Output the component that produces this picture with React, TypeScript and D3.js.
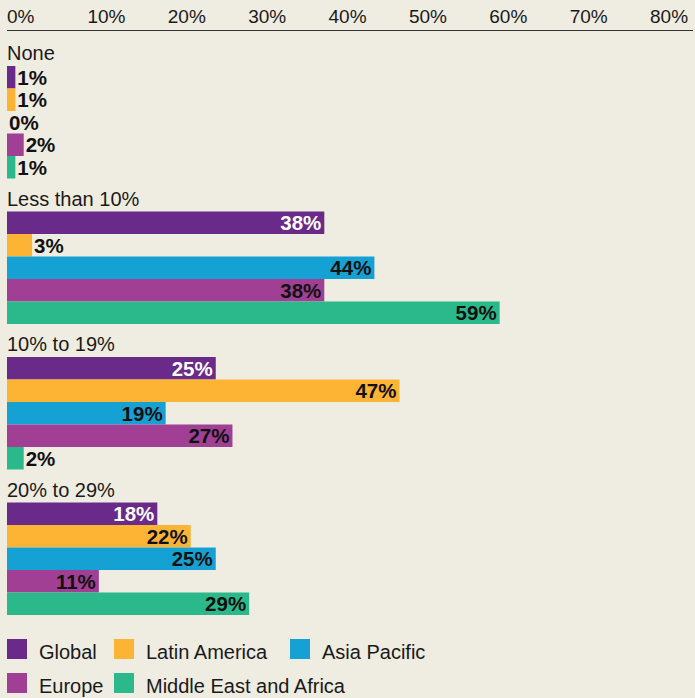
import React, { useEffect, useRef } from "react";
import * as d3 from "d3";

const categories = ["None", "Less than 10%", "10% to 19%", "20% to 29%"];
const seriesNames = ["Global", "Latin America", "Asia Pacific", "Europe", "Middle East and Africa"];
const seriesColors = ["#6a2a8a", "#fdb435", "#16a1d4", "#a03f93", "#2bb98b"];
const labelColors = ["#ffffff", "#111111", "#111111", "#111111", "#111111"];

// values per series, one entry per category
const globalValues = [1, 38, 25, 18];
const latinAmericaValues = [1, 3, 47, 22];
const asiaPacificValues = [0, 44, 19, 25];
const europeValues = [2, 38, 27, 11];
const meaValues = [1, 59, 2, 29];
const seriesValues = [globalValues, latinAmericaValues, asiaPacificValues, europeValues, meaValues];

const tickValues = [0, 10, 20, 30, 40, 50, 60, 70, 80];

const W = 695;
const H = 698;
const FONT = "'Liberation Sans', Arial, Helvetica, sans-serif";

export default function App() {
  const ref = useRef<SVGSVGElement>(null);

  useEffect(() => {
    document.body.style.margin = "0";
    document.body.style.background = "#efece1";
    const svg = d3.select(ref.current);
    svg.selectAll("*").remove();

    svg.append("rect").attr("width", W).attr("height", H).attr("fill", "#efece1");

    // scales
    const x = d3.scaleLinear().domain([0, 80]).range([7, 675]);
    const tickX = d3.scaleLinear().domain([0, 80]).range([7, 650]);
    const yGroup = d3.scaleBand<string>().domain(categories).range([40, 40 + 4 * 145.5]);
    const ySeries = d3.scaleBand<string>().domain(seriesNames).range([0, 112.5]);

    // top axis labels + line
    svg.append("g")
      .selectAll("text")
      .data(tickValues)
      .enter()
      .append("text")
      .attr("x", (d) => tickX(d))
      .attr("y", 23)
      .attr("font-family", FONT)
      .attr("font-size", 19)
      .attr("fill", "#1a1a1a")
      .text((d) => d + "%");
    svg.append("line")
      .attr("x1", 7).attr("x2", 693)
      .attr("y1", 30.5).attr("y2", 30.5)
      .attr("stroke", "#333")
      .attr("stroke-width", 1.2);

    const groups = svg.append("g")
      .selectAll("g")
      .data(categories)
      .enter()
      .append("g")
      .attr("transform", (d) => "translate(0," + yGroup(d) + ")");

    // category label
    groups.append("text")
      .attr("x", 7)
      .attr("y", 20)
      .attr("font-family", FONT)
      .attr("font-size", 20)
      .attr("fill", "#1a1a1a")
      .text((d) => d);

    type Cell = { s: number; v: number };
    groups.each(function (_cat, ci) {
      const g = d3.select(this).append("g").attr("transform", "translate(0,26)");
      const cells: Cell[] = seriesNames.map((_, s) => ({ s, v: seriesValues[s][ci] }));
      g.selectAll("rect")
        .data(cells)
        .enter()
        .append("rect")
        .attr("x", x(0))
        .attr("y", (d) => ySeries(seriesNames[d.s])!)
        .attr("width", (d) => x(d.v) - x(0))
        .attr("height", ySeries.bandwidth())
        .attr("fill", (d) => seriesColors[d.s]);

      g.selectAll("text")
        .data(cells)
        .enter()
        .append("text")
        .attr("font-family", FONT)
        .attr("font-size", 20.5)
        .attr("font-weight", "bold")
        .attr("y", (d) => ySeries(seriesNames[d.s])! + ySeries.bandwidth() / 2)
        .attr("dy", "0.36em")
        .text((d) => d.v + "%")
        .each(function (d) {
          const t = d3.select(this);
          const tw = (this as SVGTextElement).getComputedTextLength();
          const bw = x(d.v) - x(0);
          if (bw > tw + 4) {
            t.attr("x", x(d.v) - 3).attr("text-anchor", "end").attr("fill", labelColors[d.s]);
          } else {
            t.attr("x", x(d.v) + 2).attr("text-anchor", "start").attr("fill", "#111111");
          }
        });
    });

    // legend
    const legendPos = [
      [7, 639], [114, 639], [290, 639],
      [7, 673], [114, 673],
    ];
    const legend = svg.append("g")
      .selectAll("g")
      .data(seriesNames)
      .enter()
      .append("g")
      .attr("transform", (_d, i) => "translate(" + legendPos[i][0] + "," + legendPos[i][1] + ")");
    legend.append("rect")
      .attr("width", 20)
      .attr("height", 20)
      .attr("fill", (_d, i) => seriesColors[i]);
    legend.append("text")
      .attr("x", 32)
      .attr("y", 20)
      .attr("font-family", FONT)
      .attr("font-size", 20)
      .attr("fill", "#1a1a1a")
      .text((d) => d);
  }, []);

  return <svg ref={ref} width={W} height={H} style={{ display: "block" }} />;
}
